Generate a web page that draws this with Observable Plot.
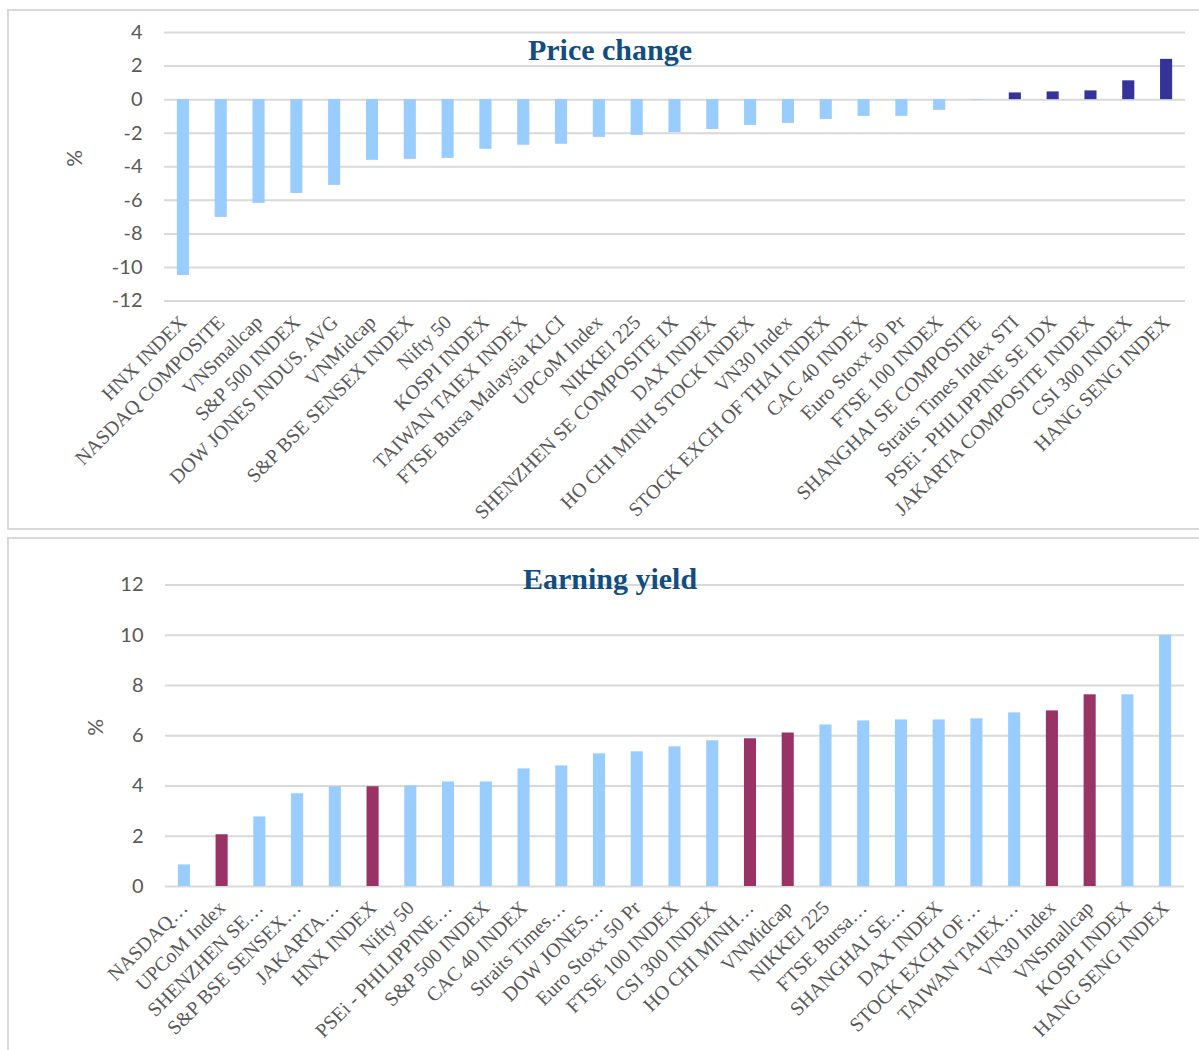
<!DOCTYPE html>
<html>
<head>
<meta charset="utf-8">
<script src="https://cdn.jsdelivr.net/npm/d3@7"></script>
<script src="https://cdn.jsdelivr.net/npm/@observablehq/plot@0.6"></script>
<style>
  html, body { margin: 0; padding: 0; background: #fff; width: 1199px; height: 1050px; overflow: hidden; }
  .panel { position: absolute; border: 2px solid #d9d9d9; box-sizing: border-box; background: #fff; }
  .chart { position: absolute; left: 0; }
  .title { position: absolute; left: 0; width: 1220px; text-align: center; font-family: "Liberation Serif", serif; font-weight: bold; font-size: 30px; color: #114d7f; line-height: 1; }
</style>
</head>
<body>
<div class="panel" style="left:7px;top:9px;width:1210px;height:521px"></div>
<div class="panel" style="left:7px;top:537px;width:1210px;height:530px"></div>
<div id="c1" class="chart" style="top:0px"></div>
<div id="c2" class="chart" style="top:538px"></div>
<div class="title" style="top:35px">Price change</div>
<div class="title" style="top:564px">Earning yield</div>
<script>
// ---- Price change (%) ----
const priceNames = [
  "HNX INDEX", "NASDAQ COMPOSITE", "VNSmallcap", "S&P 500 INDEX", "DOW JONES INDUS. AVG",
  "VNMidcap", "S&P BSE SENSEX INDEX", "Nifty 50", "KOSPI INDEX", "TAIWAN TAIEX INDEX",
  "FTSE Bursa Malaysia KLCI", "UPCoM Index", "NIKKEI 225", "SHENZHEN SE COMPOSITE IX", "DAX INDEX",
  "HO CHI MINH STOCK INDEX", "VN30 Index", "STOCK EXCH OF THAI INDEX", "CAC 40 INDEX", "Euro Stoxx 50 Pr",
  "FTSE 100 INDEX", "SHANGHAI SE COMPOSITE", "Straits Times Index STI", "PSEi - PHILIPPINE SE IDX",
  "JAKARTA COMPOSITE INDEX", "CSI 300 INDEX", "HANG SENG INDEX"
];
const priceValues = [
  -10.48, -7.02, -6.18, -5.59, -5.11,
  -3.62, -3.56, -3.50, -2.96, -2.72,
  -2.66, -2.25, -2.13, -1.96, -1.78,
  -1.54, -1.42, -1.18, -1.00, -1.00,
  -0.64, -0.03, 0.40, 0.46,
  0.52, 1.12, 2.40
];
const priceTicks = [4, 2, 0, -2, -4, -6, -8, -10, -12];

// ---- Earning yield (%) ----
const yieldNames = [
  "NASDAQ…", "UPCoM Index", "SHENZHEN SE…", "S&P BSE SENSEX…", "JAKARTA…",
  "HNX INDEX", "Nifty 50", "PSEi - PHILIPPINE…", "S&P 500 INDEX", "CAC 40 INDEX",
  "Straits Times…", "DOW JONES…", "Euro Stoxx 50 Pr", "FTSE 100 INDEX", "CSI 300 INDEX",
  "HO CHI MINH…", "VNMidcap", "NIKKEI 225", "FTSE Bursa…", "SHANGHAI SE…",
  "DAX INDEX", "STOCK EXCH OF…", "TAIWAN TAIEX…", "VN30 Index", "VNSmallcap",
  "KOSPI INDEX", "HANG SENG INDEX"
];
const yieldValues = [
  0.86, 2.06, 2.77, 3.69, 3.97,
  3.97, 4.00, 4.16, 4.16, 4.68,
  4.80, 5.28, 5.36, 5.56, 5.80,
  5.88, 6.11, 6.43, 6.59, 6.63,
  6.63, 6.67, 6.91, 6.99, 7.63,
  7.63, 10.00
];
const yieldTicks = [0, 2, 4, 6, 8, 10, 12];
const vietnamIndices = ["UPCoM Index", "HNX INDEX", "HO CHI MINH…", "VNMidcap", "VN30 Index", "VNSmallcap"];

const LIGHT = "#99ccff", DARK = "#333399", MAROON = "#993366";
const GRID = "#d9d9d9", TEXT = "#595959";

const priceData = priceNames.map((name, i) => ({name, value: priceValues[i]}));
const yieldData = yieldNames.map((name, i) => ({name, value: yieldValues[i]}));

function makeChart({data, domainY, ticks, height, marginTop, marginBottom, marginLeft, marginRight, labelDx, fillFn}) {
  return Plot.plot({
    width: 1199,
    height,
    marginTop, marginBottom, marginLeft, marginRight,
    style: {background: "transparent", overflow: "visible"},
    x: {domain: data.map(d => d.name), paddingInner: 0.68, paddingOuter: 0.34, align: 0.5, round: false},
    y: {domain: domainY},
    marks: [
      Plot.ruleY(ticks, {stroke: GRID, strokeWidth: 2, strokeOpacity: 1}),
      Plot.barY(data, {x: "name", y: "value", fill: fillFn}),
      Plot.axisY(ticks, {
        tickSize: 0, tickPadding: 22, fontSize: 20, fontFamily: "Lato, sans-serif", fill: TEXT,
        label: null,
        tickFormat: d => String(d).replace("−", "-")
      }),
      Plot.text(["%"], {
        frameAnchor: "left", dx: labelDx, rotate: -90, fontSize: 21,
        fontFamily: "Lato, sans-serif", fill: TEXT
      }),
      Plot.axisX({
        tickSize: 0, tickPadding: 18, tickRotate: -45, fontSize: 20,
        fontFamily: "Liberation Serif, serif", fill: TEXT, label: null
      })
    ]
  });
}

const chart1 = makeChart({
  data: priceData, domainY: [-12, 4], ticks: priceTicks,
  height: 530, marginTop: 32, marginBottom: 229.5, marginLeft: 164, marginRight: 14,
  labelDx: -89,
  fillFn: d => d.value > 0 ? DARK : LIGHT
});
const chart2 = makeChart({
  data: yieldData, domainY: [0, 12], ticks: yieldTicks,
  height: 512, marginTop: 46.5, marginBottom: 164, marginLeft: 165, marginRight: 15,
  labelDx: -69,
  fillFn: d => vietnamIndices.includes(d.name) ? MAROON : LIGHT
});
document.getElementById("c1").appendChild(chart1);
document.getElementById("c2").appendChild(chart2);
</script>
</body>
</html>
